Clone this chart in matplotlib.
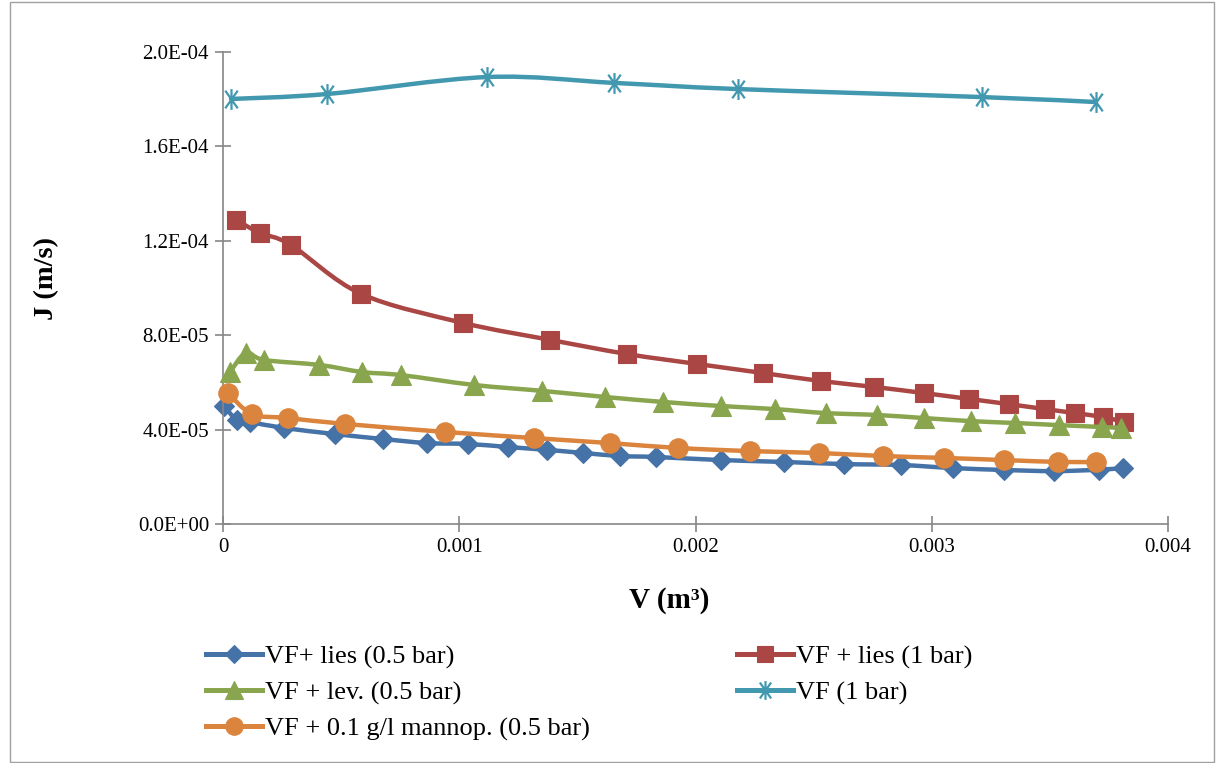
import matplotlib.pyplot as plt
from matplotlib.path import Path
from matplotlib.patches import PathPatch, Rectangle
from matplotlib.lines import Line2D

# --- DATA ---
v_lies05 = [0.000004, 0.000059, 0.000114, 0.000258, 0.000475, 0.000678, 0.000864, 0.001038,
            0.001208, 0.001373, 0.001525, 0.001682, 0.001831, 0.002106, 0.002373, 0.002627,
            0.002869, 0.003089, 0.003305, 0.003517, 0.003708, 0.003809]
j_lies05 = [5.0e-5, 4.41e-5, 4.32e-5, 4.07e-5, 3.81e-5, 3.60e-5, 3.43e-5, 3.39e-5,
            3.26e-5, 3.14e-5, 3.01e-5, 2.88e-5, 2.84e-5, 2.71e-5, 2.63e-5, 2.54e-5,
            2.50e-5, 2.37e-5, 2.29e-5, 2.24e-5, 2.30e-5, 2.37e-5]

v_lies1 = [0.000055, 0.000157, 0.000288, 0.000585, 0.001017, 0.001386, 0.001712, 0.002008,
           0.002284, 0.002530, 0.002754, 0.002966, 0.003157, 0.003326, 0.003479, 0.003606,
           0.003725, 0.003814]
j_lies1 = [1.288e-4, 1.233e-4, 1.182e-4, 9.75e-5, 8.52e-5, 7.80e-5, 7.20e-5, 6.78e-5,
           6.40e-5, 6.06e-5, 5.81e-5, 5.55e-5, 5.30e-5, 5.08e-5, 4.87e-5, 4.70e-5,
           4.53e-5, 4.32e-5]

v_lev05 = [0.000030, 0.000097, 0.000174, 0.000407, 0.000589, 0.000754, 0.001064, 0.001352,
           0.001619, 0.001864, 0.002106, 0.002335, 0.002551, 0.002767, 0.002966, 0.003165,
           0.003352, 0.003538, 0.003720, 0.003801]
j_lev05 = [6.44e-5, 7.25e-5, 6.95e-5, 6.74e-5, 6.44e-5, 6.31e-5, 5.89e-5, 5.64e-5,
           5.38e-5, 5.17e-5, 5.00e-5, 4.87e-5, 4.70e-5, 4.62e-5, 4.49e-5, 4.36e-5,
           4.28e-5, 4.19e-5, 4.11e-5, 4.07e-5]

v_vf1 = [0.000034, 0.000441, 0.001119, 0.001657, 0.002178, 0.003212, 0.003695]
j_vf1 = [1.801e-4, 1.822e-4, 1.894e-4, 1.869e-4, 1.843e-4, 1.809e-4, 1.788e-4]

v_mannop = [0.000021, 0.000123, 0.000275, 0.000517, 0.000941, 0.001318, 0.001636, 0.001928,
            0.002229, 0.002521, 0.002792, 0.003051, 0.003305, 0.003534, 0.003695]
j_mannop = [5.55e-5, 4.66e-5, 4.49e-5, 4.24e-5, 3.90e-5, 3.64e-5, 3.43e-5, 3.22e-5,
            3.09e-5, 3.01e-5, 2.88e-5, 2.80e-5, 2.71e-5, 2.63e-5, 2.63e-5]

labels = ["VF+ lies (0.5 bar)", "VF + lies (1 bar)", "VF + lev. (0.5 bar)",
          "VF (1 bar)", "VF + 0.1 g/l mannop. (0.5 bar)"]

x_ticks = [0, 0.001, 0.002, 0.003, 0.004]
x_ticklabels = ["0", "0.001", "0.002", "0.003", "0.004"]
y_ticks = [0, 4e-5, 8e-5, 1.2e-4, 1.6e-4, 2e-4]

# --- STYLE ---
SERIF = "Liberation Serif"
plt.rcParams["font.family"] = [SERIF, "DejaVu Serif"]

# Excel-like asterisk marker: vertical bar plus a steep X
star = Path([(0, -1), (0, 1), (-0.6, -0.85), (0.6, 0.85), (-0.6, 0.85), (0.6, -0.85)],
            [Path.MOVETO, Path.LINETO, Path.MOVETO, Path.LINETO, Path.MOVETO, Path.LINETO])

series = [
    (v_lies05, j_lies05, "#4572A7", "D", 10.5),
    (v_lies1, j_lies1, "#AA4643", "s", 13.5),
    (v_lev05, j_lev05, "#89A54E", "^", 14),
    (v_vf1, j_vf1, "#4198AF", star, 15),
    (v_mannop, j_mannop, "#DB843D", "o", 14),
]


def smooth_path(x, y):
    """Excel style smoothed line (Catmull-Rom as cubic Bezier)"""
    pts = list(zip(x, y))
    verts = [pts[0]]
    codes = [Path.MOVETO]
    n = len(pts)
    for i in range(n - 1):
        p0 = pts[i - 1] if i > 0 else pts[i]
        p1 = pts[i]
        p2 = pts[i + 1]
        p3 = pts[i + 2] if i + 2 < n else pts[i + 1]
        c1 = (p1[0] + (p2[0] - p0[0]) / 6, p1[1] + (p2[1] - p0[1]) / 6)
        c2 = (p2[0] - (p3[0] - p1[0]) / 6, p2[1] - (p3[1] - p1[1]) / 6)
        verts += [c1, c2, p2]
        codes += [Path.CURVE4] * 3
    return Path(verts, codes)


fig = plt.figure(figsize=(12.16, 7.63), dpi=100)
ax = fig.add_axes([223 / 1216, 1 - 524 / 763, (1168 - 223) / 1216, (524 - 52) / 763])

handles = []
for k, (xs, ys, color, marker, ms) in enumerate(series):
    z = 2 + k
    ax.add_patch(PathPatch(smooth_path(xs, ys), fill=False, edgecolor=color,
                           linewidth=3.2, zorder=z, capstyle="round", joinstyle="round"))
    mew = 1.6 if marker is star else 0.8
    ax.plot(xs, ys, linestyle="none", marker=marker, markersize=ms, color=color,
            markeredgecolor=color, markeredgewidth=mew, zorder=z + 0.5, clip_on=False)
    handles.append(Line2D([], [], color=color, linewidth=3.6, marker=marker,
                          markersize=ms * 0.9, markeredgewidth=mew, label=labels[k]))

ax.set_xlim(0, 0.004)
ax.set_ylim(0, 2e-4)
ax.set_xticks(x_ticks)
ax.set_xticklabels(x_ticklabels)
ax.set_yticks(y_ticks)
ax.set_yticklabels([f"{v:.1E}" for v in y_ticks])

for side in ["top", "right"]:
    ax.spines[side].set_visible(False)
for side in ["left", "bottom"]:
    ax.spines[side].set_color("#868686")
    ax.spines[side].set_linewidth(1.2)
ax.tick_params(direction="inout", length=12, width=1.2, color="#868686",
               labelsize=15, labelcolor="black", pad=4)

# axis titles
fig.text(47 / 1216, 1 - 278 / 763, "J (m/s)", rotation=90, ha="center", va="center",
         fontsize=20.5, fontweight="bold")
fig.text(669 / 1216, 1 - 600 / 763, "V (m³)", ha="center", va="center",
         fontsize=21, fontweight="bold")

# legend: column-wise order gives Excel's row layout
order = [0, 2, 4, 1, 3]
fig.legend([handles[i] for i in order], [labels[i] for i in order],
           loc="upper left", bbox_to_anchor=(193 / 1216, 1 - 632 / 763), ncol=2,
           frameon=False, fontsize=19, handlelength=2.1, handletextpad=0.12,
           columnspacing=5.6, labelspacing=0.45, borderpad=0)

# chart area border
fig.add_artist(Rectangle((10 / 1216, 1 / 763), 1204 / 1216, 760 / 763,
                         transform=fig.transFigure, fill=False,
                         edgecolor="#a0a0a0", linewidth=1.0))

fig.savefig("out.png", dpi=100)
